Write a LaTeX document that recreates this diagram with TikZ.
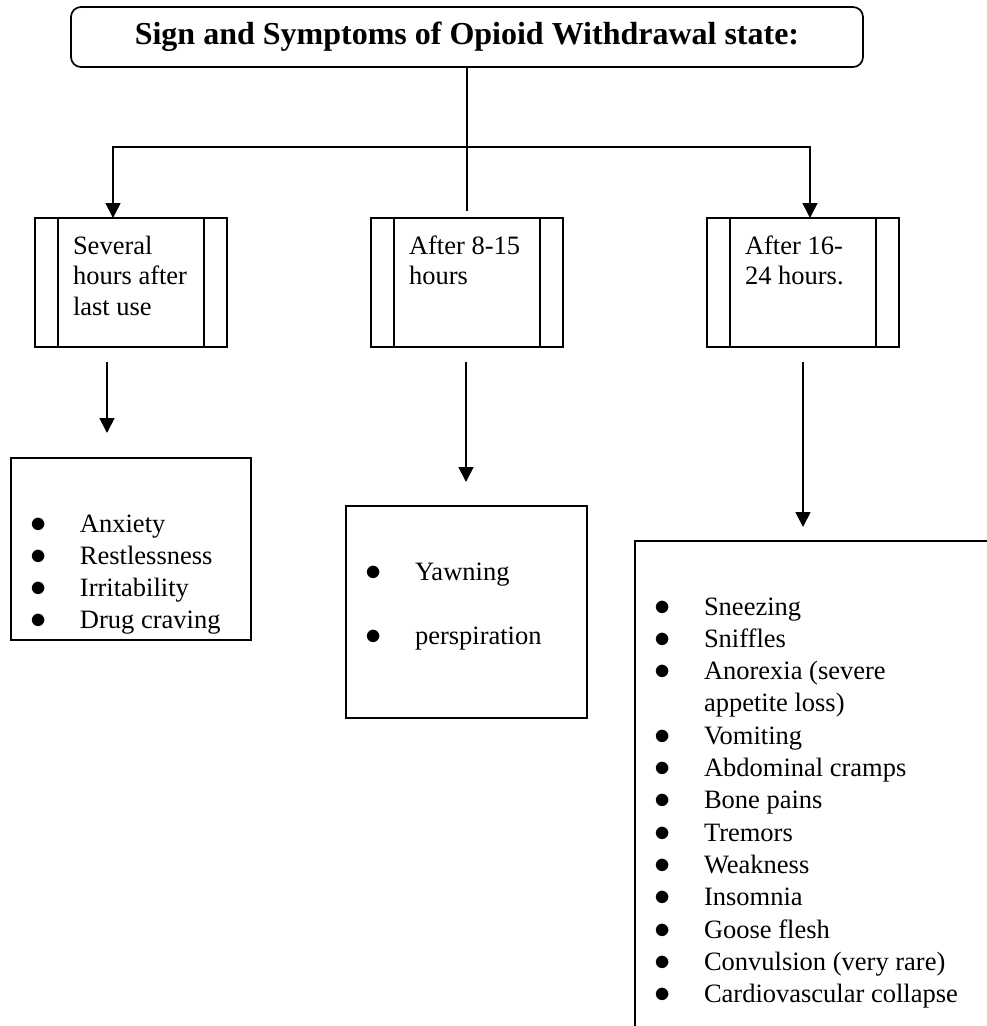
\documentclass[tikz,border=0pt]{standalone}
\usepackage{fontspec}
\setmainfont{Liberation Serif}
\usetikzlibrary{positioning, arrows.meta}
\newcommand{\boxfont}{\fontsize{26.5}{30.5}\selectfont}
\newcommand{\listfont}{\fontsize{26.5}{32.3}\selectfont}
\newcommand{\proctxt}[1]{\parbox[c][99pt][t]{116pt}{\raggedright\boxfont\strut #1}}
\newcommand{\listtxt}[3]{\parbox[c][#1pt][t]{#2pt}{\listfont\vspace*{51.4pt}#3}}
\newcommand{\itm}[1]{\strut\makebox[47pt][l]{\hspace*{-2.5pt}\scalebox{1.3}{$\bullet$}}#1\par}
\newcommand{\cont}[1]{\strut\hspace*{47pt}#1\par}
\tikzset{
	>={Triangle[width=15pt,length=15pt]}, % punta de flecha rellena
	node distance=144pt, % separacion entre las cajas de tiempo
	titlebox/.style={draw, rounded corners=10pt, minimum width=792pt, minimum height=60pt, outer sep=0pt, font=\fontsize{32}{38}\selectfont\bfseries}, % caja del titulo
	procbox/.style={draw, outer sep=0pt, inner xsep=38pt, inner ysep=15pt, minimum width=192pt, minimum height=129pt,
		path picture={
			\draw[line width=1.7pt] ([xshift=23pt]path picture bounding box.north west) -- ([xshift=23pt]path picture bounding box.south west);
			\draw[line width=1.7pt] ([xshift=-23pt]path picture bounding box.north east) -- ([xshift=-23pt]path picture bounding box.south east);
		}}, % proceso predefinido
	listbox/.style={draw, anchor=north west, outer sep=0pt, inner xsep=22pt, inner ysep=0pt} % lista de sintomas
}

\begin{document}
\begin{tikzpicture}[x=1pt, y=-1pt, line width=1.7pt]
	\useasboundingbox (0,0) rectangle (987,1026);
	\clip (0,0) rectangle (987,1026);
	\node[titlebox] (title) at (467,37) {Sign and Symptoms of Opioid Withdrawal state:};
	\node[procbox] (sev) at (131,282.5) {\proctxt{Several\\hours after\\last use}};
	\node[procbox, right=of sev] (mid) {\proctxt{After 8-15\\hours}};
	\node[procbox, right=of mid] (late) {\proctxt{After 16-\\24 hours.}};
	\node[listbox] (early) at (11,458) {\listtxt{182}{196}{\itm{Anxiety}\itm{Restlessness}\itm{Irritability}\itm{Drug craving}}};
	\node[listbox] (mids) at (346,506) {\listtxt{212}{197}{\itm{Yawning}\strut\par\itm{perspiration}}};
	\node[listbox] (lates) at (635,541) {\listtxt{500}{400}{\itm{Sneezing}\itm{Sniffles}\itm{Anorexia (severe}\cont{appetite loss)}\itm{Vomiting}\itm{Abdominal cramps}\itm{Bone pains}\itm{Tremors}\itm{Weakness}\itm{Insomnia}\itm{Goose flesh}\itm{Convulsion (very rare)}\itm{Cardiovascular collapse}}};
	\coordinate (split) at (467,147);
	\coordinate (a0) at ([xshift=-18pt]sev.north);
	\coordinate (c0) at ([xshift=7pt]late.north);
	\coordinate (a1) at ([xshift=-24pt]sev.south);
	\coordinate (b1) at ([xshift=-1pt]mid.south);
	\coordinate (c1) at (late.south);
	\draw (title.south) -- ([yshift=7pt]mid.north);
	\draw[->] (split) -| (a0);
	\draw[->] (split) -| (c0);
	\draw[->, shorten <=15pt, shorten >=25pt] (a1) -- (a1 |- early.north);
	\draw[->, shorten <=15pt, shorten >=24pt] (b1) -- (b1 |- mids.north);
	\draw[->, shorten <=15pt, shorten >=14pt] (c1) -- (c1 |- lates.north);
\end{tikzpicture}
\end{document}
